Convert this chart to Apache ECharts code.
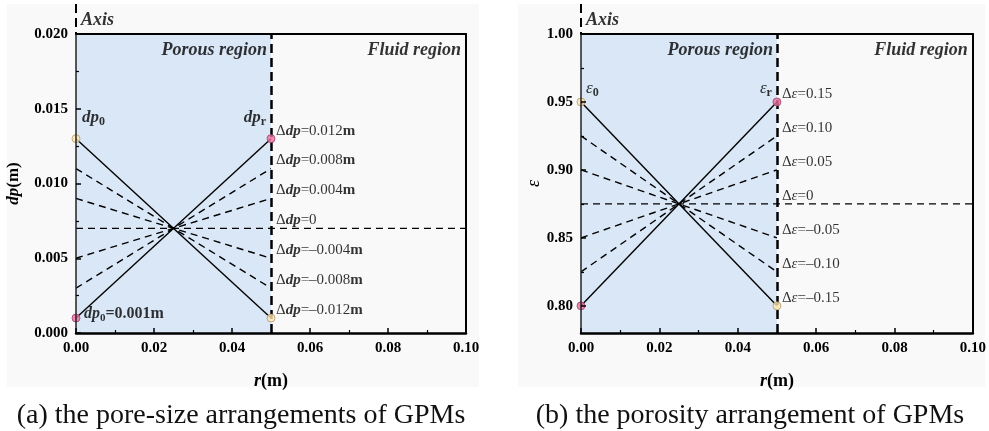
<!DOCTYPE html>
<html>
<head>
<meta charset="utf-8">
<script src="https://cdn.jsdelivr.net/npm/echarts@6/dist/echarts.min.js"></script>
<style>
  html, body { margin: 0; padding: 0; background: #ffffff; }
  #c { width: 989px; height: 431px; }
</style>
</head>
<body>
<div id="c"></div>
<script>
// Radial positions (m): axis, porous/fluid interface, outer wall
const rAxis = 0;
const rInterface = 0.05;
const rWall = 0.10;
const rTicks = [0, 0.02, 0.04, 0.06, 0.08, 0.10];

// (a) pore size at the axis and at the interface for each arrangement (m)
const dpAtAxis      = [0.013, 0.011, 0.009, 0.007, 0.005, 0.003, 0.001];
const dpAtInterface = [0.001, 0.003, 0.005, 0.007, 0.009, 0.011, 0.013];
const dpDelta       = ['\u20130.012', '\u20130.008', '\u20130.004', '0', '0.004', '0.008', '0.012'];
const dpTicks       = [0, 0.005, 0.010, 0.015, 0.020];

// (b) porosity at the axis and at the interface for each arrangement
const epsAtAxis      = [0.95, 0.925, 0.90, 0.875, 0.85, 0.825, 0.80];
const epsAtInterface = [0.80, 0.825, 0.85, 0.875, 0.90, 0.925, 0.95];
const epsDelta       = ['\u20130.15', '\u20130.10', '\u20130.05', '0', '0.05', '0.10', '0.15'];
const epsTicks       = [0.80, 0.85, 0.90, 0.95, 1.00];
const epsMinorTicks  = [0.825, 0.875, 0.925, 0.975];
const epsRange       = [0.78, 1.00];

// Marker colours for the two extreme (solid) arrangements
const dotFirst = { color: '#fde6b4', borderColor: '#b3976a', borderWidth: 1 };
const dotLast  = { color: '#e86f9e', borderColor: '#a13f6b', borderWidth: 1 };

const FONT = "'Liberation Serif', 'Times New Roman', serif";
const INK = '#000000';

const chart = echarts.init(document.getElementById('c'), null, { renderer: 'canvas' });

function richStyles(size) {
  return {
    d: { fontFamily: FONT, fontSize: size, color: INK, lineHeight: size + 4 },
    n: { fontFamily: FONT, fontSize: size, color: INK, lineHeight: size + 4 },
    nb: { fontFamily: FONT, fontSize: size, fontWeight: 'bold', color: INK, lineHeight: size + 4 },
    v: { fontFamily: FONT, fontSize: size, fontStyle: 'italic', fontWeight: 'bold', color: INK, lineHeight: size + 4 },
    e: { fontFamily: FONT, fontSize: size, fontStyle: 'italic', color: INK, lineHeight: size + 4 },
    s: { fontFamily: FONT, fontSize: Math.round(size * 0.68), fontWeight: 'bold', color: INK, verticalAlign: 'bottom', lineHeight: Math.round(size * 0.68) }
  };
}

function xAxisMain(grid) {
  return {
    type: 'value', gridIndex: grid, position: 'bottom', z: 10,
    min: rTicks[0], max: rTicks[rTicks.length - 1], interval: rTicks[1] - rTicks[0],
    axisLine: { onZero: false, lineStyle: { color: '#000', width: 2.5 } },
    axisTick: { inside: true, length: 5, lineStyle: { color: '#000', width: 1.5 } },
    minorTick: { show: true, splitNumber: 2, length: 3, lineStyle: { color: '#000', width: 1.2 } },
    splitLine: { show: false }, minorSplitLine: { show: false },
    axisLabel: { formatter: v => v.toFixed(2), fontFamily: FONT, fontSize: 15, fontWeight: 'bold', color: INK, margin: 8 },
    name: '{v|r}{nb|(m)}', nameLocation: 'middle', nameGap: 37,
    nameTextStyle: { color: INK, rich: richStyles(18) }
  };
}

function frameAxis(grid, pos, range) {
  return {
    type: 'value', gridIndex: grid, position: pos, z: 10, min: range[0], max: range[1],
    axisLine: { show: true, onZero: false, lineStyle: { color: '#000', width: 2 } },
    axisTick: { show: false }, axisLabel: { show: false }, splitLine: { show: false }
  };
}

function arrangementLines(xi, yi, atAxis, atInterface) {
  const last = atAxis.length - 1;
  return atAxis.map((a, k) => {
    const b = atInterface[k];
    const solid = (k === 0 || k === last);
    return {
      type: 'line', xAxisIndex: xi, yAxisIndex: yi, symbol: 'none', silent: true, z: 3,
      data: a === b ? [[rAxis, a], [rWall, b]] : [[rAxis, a], [rInterface, b]],
      lineStyle: { color: '#000', width: 1.4, type: solid ? 'solid' : [7, 5] }
    };
  });
}

function regionSeries(xi, yi) {
  return {
    type: 'line', xAxisIndex: xi, yAxisIndex: yi, data: [], silent: true, z: 1,
    markArea: {
      silent: true,
      itemStyle: { color: '#dae7f6' },
      data: [[{ xAxis: rAxis }, { xAxis: rInterface }]]
    },
    markLine: {
      silent: true, symbol: ['none', 'none'], label: { show: false },
      lineStyle: { color: '#000', width: 2.5, type: [9, 5] },
      data: [{ xAxis: rInterface }]
    }
  };
}

function endDots(xi, yi, atAxis, atInterface) {
  const last = atAxis.length - 1;
  return {
    type: 'scatter', xAxisIndex: xi, yAxisIndex: yi, symbolSize: 8, silent: true, z: 6,
    data: [
      { value: [rAxis, atAxis[0]], itemStyle: dotFirst },
      { value: [rInterface, atInterface[0]], itemStyle: dotFirst },
      { value: [rAxis, atAxis[last]], itemStyle: dotLast },
      { value: [rInterface, atInterface[last]], itemStyle: dotLast }
    ]
  };
}

function deltaLabels(xi, yi, atInterface, deltas, fmt) {
  return {
    type: 'scatter', xAxisIndex: xi, yAxisIndex: yi, symbolSize: 0, silent: true, z: 7,
    itemStyle: { color: INK },
    data: atInterface.map((v, k) => ({ value: [rInterface, v], label: { formatter: fmt(deltas[k]) } })),
    label: { show: true, color: INK, position: 'right', distance: 5, offset: [0, -8], rich: richStyles(15) }
  };
}

function notes(xi, yi, items) {
  return {
    type: 'scatter', xAxisIndex: xi, yAxisIndex: yi, symbolSize: 0, silent: true, z: 7,
    itemStyle: { color: INK },
    data: items.map(it => ({
      value: it.at,
      label: { show: true, color: INK, position: it.pos, distance: 0, offset: it.off, formatter: it.text, rich: richStyles(it.size) }
    }))
  };
}

const dpMax = dpTicks[dpTicks.length - 1];
const epsMax = epsRange[1];

const option = {
  animation: false,
  backgroundColor: '#ffffff',
  grid: [
    { left: 76, top: 34, width: 390, height: 299, show: false },
    { left: 581, top: 34, width: 394, height: 299, show: false }
  ],
  xAxis: [
    xAxisMain(0),
    frameAxis(0, 'top', [rTicks[0], rTicks[rTicks.length - 1]]),
    xAxisMain(1),
    frameAxis(1, 'top', [rTicks[0], rTicks[rTicks.length - 1]])
  ],
  yAxis: [
    {
      type: 'value', gridIndex: 0, position: 'left', z: 10,
      min: dpTicks[0], max: dpMax, interval: dpTicks[1] - dpTicks[0],
      axisLine: { show: true, onZero: false, lineStyle: { color: '#222', width: 1.5 } },
      axisTick: { inside: true, length: 5, lineStyle: { color: '#000', width: 1.5 } },
      minorTick: { show: true, splitNumber: 2, length: 3, lineStyle: { color: '#000', width: 1.2 } },
      splitLine: { show: false }, minorSplitLine: { show: false },
      axisLabel: { formatter: v => v.toFixed(3), fontFamily: FONT, fontSize: 15, fontWeight: 'bold', color: INK, margin: 8 },
      name: '{v|dp}{nb|(m)}', nameLocation: 'middle', nameGap: 52,
      nameTextStyle: { color: INK, rich: richStyles(17) }
    },
    frameAxis(0, 'right', [dpTicks[0], dpMax]),
    {
      type: 'value', gridIndex: 1, position: 'left', z: 10,
      min: epsRange[0], max: epsRange[1],
      axisLine: { show: true, onZero: false, lineStyle: { color: '#222', width: 1.5 } },
      axisTick: { inside: true, length: 5, customValues: epsTicks, lineStyle: { color: '#000', width: 1.5 } },
      splitLine: { show: false },
      axisLabel: { customValues: epsTicks, formatter: v => v.toFixed(2), fontFamily: FONT, fontSize: 15, fontWeight: 'bold', color: INK, margin: 8 },
      name: '{e|\u03b5}', nameLocation: 'middle', nameGap: 36,
      nameTextStyle: { color: INK, rich: richStyles(18) }
    },
    frameAxis(1, 'right', epsRange),
    {
      type: 'value', gridIndex: 1, position: 'left', z: 10,
      min: epsRange[0], max: epsRange[1],
      axisLine: { show: false },
      axisTick: { inside: true, length: 3, customValues: epsMinorTicks, lineStyle: { color: '#000', width: 1.2 } },
      axisLabel: { show: false }, splitLine: { show: false }
    }
  ],
  series: [
    regionSeries(0, 0),
    ...arrangementLines(0, 0, dpAtAxis, dpAtInterface),
    endDots(0, 0, dpAtAxis, dpAtInterface),
    deltaLabels(0, 0, dpAtInterface, dpDelta,
      d => '{d|\u0394}{v|dp}{n|=' + d + '}' + (d === '0' ? '' : '{nb|m}')),
    notes(0, 0, [
      { at: [rAxis, 0.0144], pos: 'right', off: [6, 0], size: 17, text: '{v|dp}{s|0}' },
      { at: [rInterface, 0.0144], pos: 'left', off: [-5, 0], size: 17, text: '{v|dp}{s|r}' },
      { at: [rAxis, dpAtAxis[dpAtAxis.length - 1]], pos: 'right', off: [8, -4], size: 16, text: '{v|dp}{s|0}{nb|=0.001m}' },
      { at: [rInterface, dpMax], pos: 'left', off: [-4, 16], size: 18, text: '{v|Porous region}' },
      { at: [rWall, dpMax], pos: 'left', off: [-5, 16], size: 18, text: '{v|Fluid region}' },
      { at: [rAxis, dpMax], pos: 'right', off: [5, -14], size: 18, text: '{v|Axis}' }
    ]),

    regionSeries(2, 2),
    ...arrangementLines(2, 2, epsAtAxis, epsAtInterface),
    endDots(2, 2, epsAtAxis, epsAtInterface),
    deltaLabels(2, 2, epsAtInterface, epsDelta,
      d => '{d|\u0394}{e|\u03b5}{n|=' + d + '}'),
    notes(2, 2, [
      { at: [rAxis, 0.96], pos: 'right', off: [5, 0], size: 17, text: '{e|\u03b5}{s|0}' },
      { at: [rInterface, 0.96], pos: 'left', off: [-5, 0], size: 17, text: '{e|\u03b5}{s|r}' },
      { at: [rInterface, epsMax], pos: 'left', off: [-4, 16], size: 18, text: '{v|Porous region}' },
      { at: [rWall, epsMax], pos: 'left', off: [-5, 16], size: 18, text: '{v|Fluid region}' },
      { at: [rAxis, epsMax], pos: 'right', off: [5, -14], size: 18, text: '{v|Axis}' }
    ])
  ]
};

chart.setOption(option);

// Panel backgrounds, captions and the dashed symmetry-axis stubs above each plot
const axisTopA = chart.convertToPixel({ xAxisIndex: 0, yAxisIndex: 0 }, [rAxis, dpMax]);
const axisTopB = chart.convertToPixel({ xAxisIndex: 2, yAxisIndex: 2 }, [rAxis, epsMax]);
const panelTop = 4;

chart.setOption({
  graphic: [
    { type: 'rect', z: -10, silent: true, shape: { x: 7, y: panelTop, width: 472, height: 383 }, style: { fill: '#f9f9f9' } },
    { type: 'rect', z: -10, silent: true, shape: { x: 518, y: panelTop, width: 467, height: 383 }, style: { fill: '#f9f9f9' } },
    { type: 'line', z: 20, silent: true, shape: { x1: axisTopA[0], y1: panelTop, x2: axisTopA[0], y2: axisTopA[1] },
      style: { stroke: '#000', lineWidth: 2, lineDash: [9, 5] } },
    { type: 'line', z: 20, silent: true, shape: { x1: axisTopB[0], y1: panelTop, x2: axisTopB[0], y2: axisTopB[1] },
      style: { stroke: '#000', lineWidth: 2, lineDash: [9, 5] } },
    { type: 'text', z: 20, silent: true, x: 241, y: 416,
      style: { text: '(a) the pore-size arrangements of GPMs', font: "28px 'Liberation Serif', 'Times New Roman', serif", fill: '#111', textAlign: 'center', textVerticalAlign: 'middle' } },
    { type: 'text', z: 20, silent: true, x: 750, y: 416,
      style: { text: '(b) the porosity arrangement of GPMs', font: "28px 'Liberation Serif', 'Times New Roman', serif", fill: '#111', textAlign: 'center', textVerticalAlign: 'middle' } }
  ]
});
</script>
</body>
</html>
